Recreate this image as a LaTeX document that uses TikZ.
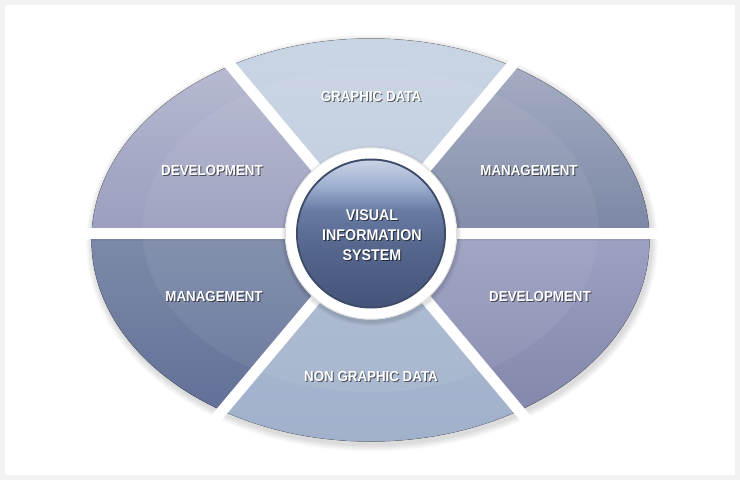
\documentclass[tikz,border=0pt]{standalone}
\usepackage{fontspec}
\setmainfont{Liberation Sans}[FakeStretch=0.92]
\definecolor{frameC}{HTML}{F2F2F2}
\definecolor{topA}{HTML}{CAD5E4}
\definecolor{topB}{HTML}{BCC9DC}
\definecolor{ulA}{HTML}{B7BAD1}
\definecolor{ulB}{HTML}{9A9DBD}
\definecolor{urA}{HTML}{A6AEC4}
\definecolor{urB}{HTML}{7A86A4}
\definecolor{llA}{HTML}{7D8BA9}
\definecolor{llB}{HTML}{626F97}
\definecolor{lrA}{HTML}{9DA2C3}
\definecolor{lrB}{HTML}{8287AB}
\definecolor{btA}{HTML}{ABBAD2}
\definecolor{btB}{HTML}{A1B1CB}
\definecolor{ballTop}{HTML}{C9D2E5}
\definecolor{ballA}{HTML}{9CAECF}
\definecolor{ballB}{HTML}{687BA3}
\definecolor{ballC}{HTML}{55668C}
\definecolor{ballD}{HTML}{46547A}
\definecolor{ballRim}{HTML}{3E4B69}
\pgfdeclareverticalshading{ballshade}{100bp}{color(0bp)=(ballD); color(25bp)=(ballD); color(45bp)=(ballC); color(58bp)=(ballB); color(66bp)=(ballA); color(75bp)=(ballTop); color(100bp)=(ballTop)}
\begin{document}
\begin{tikzpicture}[x=1pt,y=-1pt,
  lbl/.style={font=\bfseries\fontsize{14.5}{17}\selectfont, text=white, align=center, inner sep=0pt},
  lblsh/.style={font=\bfseries\fontsize{14.5}{17}\selectfont, text=black, opacity=0.55, align=center, inner sep=0pt},
  clbl/.style={font=\bfseries\fontsize{15.5}{20}\selectfont, text=white, align=center, inner sep=0pt},
  clblsh/.style={font=\bfseries\fontsize{15.5}{20}\selectfont, text=black, opacity=0.6, align=center, inner sep=0pt},
  gap/.style={line width=11pt, white, line cap=butt}]
\useasboundingbox (0,0) rectangle (740,480);
\fill[frameC] (0,0) rectangle (740,480);
\fill[white] (5,5) rectangle (735,475);
\coordinate (O) at (371,233.5);
\coordinate (E) at (370.5,240);
% soft shadow
\foreach \i in {1,...,7}{
  \fill[black,opacity=0.02] (372,243) ellipse ({279+\i} and {201.5+\i});
}
% sectors
\begin{scope}
  \clip (E) ellipse (279 and 201.5);
  \begin{scope}\clip (O) -- (89,-103.5) -- (652,-101.5) -- cycle;
    \fill[top color=topA, bottom color=topB] (80,35) rectangle (660,240);\end{scope}
  \begin{scope}\clip (O) -- (89,-103.5) -- (-200,-103.5) -- (-200,233.5) -- cycle;
    \fill[top color=ulA, bottom color=ulB] (85,60) rectangle (380,235);\end{scope}
  \begin{scope}\clip (O) -- (652,-101.5) -- (950,-101.5) -- (950,233.5) -- cycle;
    \fill[top color=urA, bottom color=urB] (360,60) rectangle (655,235);\end{scope}
  \begin{scope}\clip (O) -- (-200,233.5) -- (-200,693.7) -- (-15.1,693.7) -- cycle;
    \fill[top color=llA, bottom color=llB] (85,232) rectangle (380,415);\end{scope}
  \begin{scope}\clip (O) -- (-15.1,693.7) -- (755.8,693.7) -- cycle;
    \fill[top color=btA, bottom color=btB] (200,232) rectangle (540,445);\end{scope}
  \begin{scope}\clip (O) -- (755.8,693.7) -- (950,693.7) -- (950,233.5) -- cycle;
    \fill[top color=lrA, bottom color=lrB] (360,232) rectangle (655,415);\end{scope}
  % inner lighter band
  \fill[white,opacity=0.06] (370.5,230) ellipse (228 and 162);
  % gap shadows
  \draw[black,opacity=0.05,line width=11pt] (371,235.5) -- (-200,235.5);
  \draw[black,opacity=0.05,line width=11pt] (371,235.5) -- (950,235.5);
\end{scope}
\draw[black,opacity=0.10,line width=0.8pt] (E) ellipse (279 and 201.5);
% gaps
\coordinate (gUL) at (89,-103.5);
\coordinate (gUR) at (652,-101.5);
\coordinate (gL) at (-200,233.5);
\coordinate (gR) at (950,233.5);
\coordinate (gLL) at (-15.1,693.7);
\coordinate (gLR) at (755.8,693.7);
\begin{scope}
  \clip (E) ellipse (292 and 214);
  \draw[gap] (O) -- (gUL);
  \draw[gap] (O) -- (gUR);
  \draw[gap] (O) -- (gL);
  \draw[gap] (O) -- (gR);
  \draw[gap] (O) -- (gLL);
  \draw[gap] (O) -- (gLR);
\end{scope}
% ring
\foreach \i in {1,...,4}{
  \fill[black,opacity=0.03] (371.5,236) circle ({86+\i});
}
\fill[white] (O) circle (86);
\draw[black!12,line width=0.8pt] (O) circle (85.6);
% ball
\fill[ballRim] (O) circle (75);
\shade[shading=ballshade] (O) circle (73);
% labels
\node[lblsh] (gdS) at (372,98) {GRAPHIC DATA};
\node[lbl] (gd) at (371,97) {GRAPHIC DATA};
\node[lblsh] (dv1S) at (213,172) {DEVELOPMENT};
\node[lbl] (dv1) at (212,171) {DEVELOPMENT};
\node[lblsh] (mg1S) at (530,172) {MANAGEMENT};
\node[lbl] (mg1) at (529,171) {MANAGEMENT};
\node[lblsh] (mg2S) at (215,298) {MANAGEMENT};
\node[lbl] (mg2) at (214,297) {MANAGEMENT};
\node[lblsh] (dv2S) at (541,298) {DEVELOPMENT};
\node[lbl] (dv2) at (540,297) {DEVELOPMENT};
\node[lblsh] (ngS) at (372,378) {NON GRAPHIC DATA};
\node[lbl] (ng) at (371,377) {NON GRAPHIC DATA};
\node[clblsh] (visS) at (373,236) {VISUAL\\INFORMATION\\SYSTEM};
\node[clbl] (vis) at (372,235) {VISUAL\\INFORMATION\\SYSTEM};
\end{tikzpicture}
\end{document}
